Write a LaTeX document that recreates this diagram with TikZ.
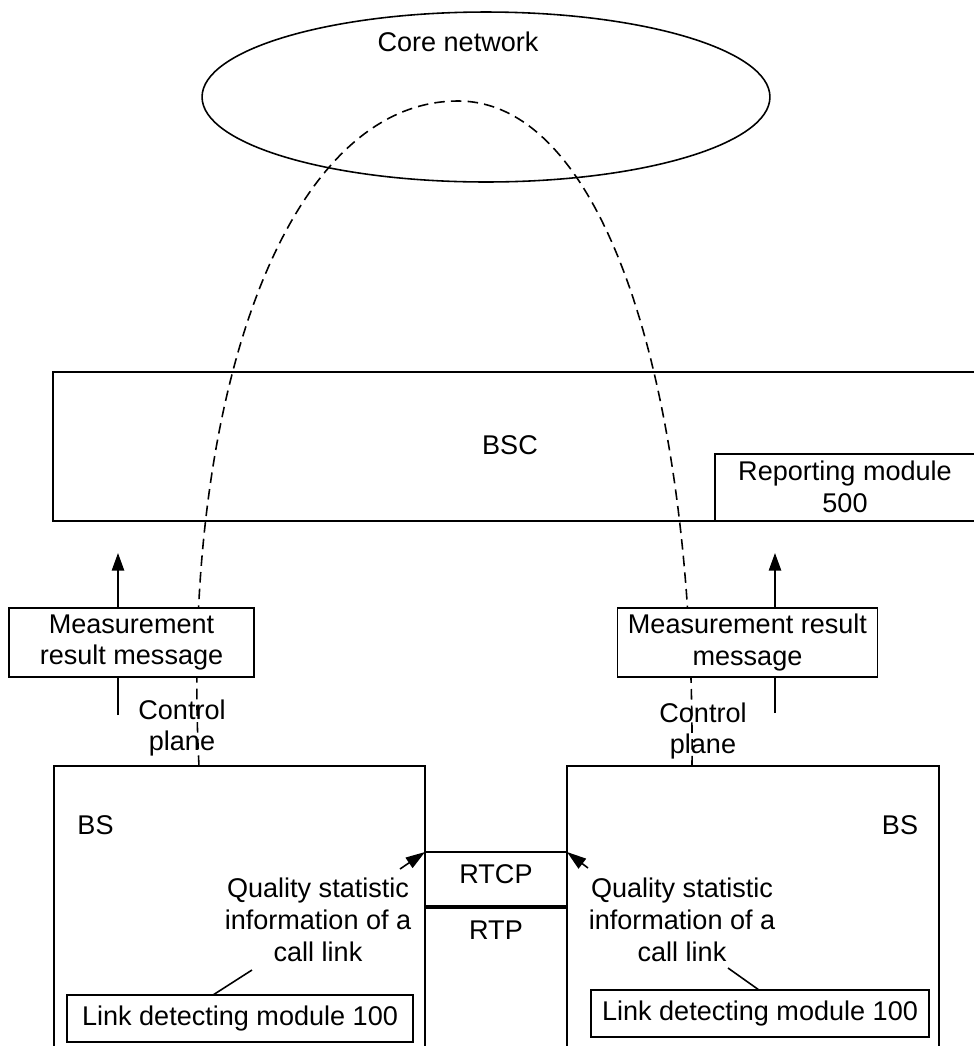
\documentclass[tikz,border=0pt]{standalone}
\usepackage{fontspec}
\setmainfont{Liberation Sans}
\usetikzlibrary{arrows.meta,shapes.geometric}
\begin{document}
\begin{tikzpicture}[x=0.02cm, y=-0.02cm, line width=0.9pt,
  every node/.style={font=\fontsize{15.4}{18.2}\selectfont, align=center, inner sep=0pt},
  msgbox/.style={draw, fill=white, minimum height=1.38cm},
  linkbox/.style={draw, fill=white, minimum height=0.94cm},
  sigpath/.style={dash pattern=on 6pt off 3.5pt},
  uptip/.style={-{Triangle[length=10pt,width=7pt]}},
  cornertip/.style={-{Triangle[length=11pt,width=7pt]}}]
\useasboundingbox (0,0) rectangle (974,1046);
\draw (486,97) node (core) [draw, ellipse, minimum width=11.36cm, minimum height=3.4cm] {};
\draw (458,42) node (corelabel) {Core network};
\draw (974,372) -- (53,372) -- (53,521) -- (974,521);
\draw (510,445) node (bsc) {BSC};
\draw (974,454) -- (715,454) -- (715,521);
\draw[line width=1.5pt] (715,521) -- (974,521);
\draw (845,487) node (report) {Reporting module\\500};
\draw (54,1050) -- (54,766) -- (425,766) -- (425,1050);
\draw (567,1050) -- (567,766) -- (939,766) -- (939,1050);
\draw (95.5,825) node (bsL) {BS};
\draw (900,825) node (bsR) {BS};
\coordinate (cpL) at (199,766);
\coordinate (apex) at (458,101);
\coordinate (cpR) at (692,766);
\draw[sigpath] (cpL) .. controls (180,400) and (285,101) .. (apex)
  .. controls (605,101) and (695,390) .. (cpR);
\coordinate (upL) at (118,715);
\coordinate (upR) at (775,713);
\draw[uptip] (upL) -- (118,553);
\draw[uptip] (upR) -- (775,553);
\draw (131.5,642.5) node (msgL) [msgbox, minimum width=4.9cm] {Measurement\\result message};
\draw (747.5,642.5) node (msgR) [msgbox, minimum width=5.2cm] {Measurement result\\message};
\draw (182,728) node (ctrlL) {Control\\plane};
\draw (703,731) node (ctrlR) {Control\\plane};
\coordinate (rtcpL) at (425,852);
\coordinate (rtcpR) at (567,852);
\draw (rtcpL) -- (rtcpR);
\draw[line width=2.8pt] (425,907) -- (567,907);
\draw (496,874) node (rtcp) {RTCP};
\draw (496,930) node (rtp) {RTP};
\draw (318,920) node (qualL) {Quality statistic\\information of a\\call link};
\draw (682,920) node (qualR) {Quality statistic\\information of a\\call link};
\draw[cornertip] (400,869) -- (rtcpL);
\draw[cornertip] (588,868) -- (rtcpR);
\draw (240,1018.5) node (linkL) [linkbox, minimum width=6.92cm] {Link detecting module 100};
\draw (760,1013.5) node (linkR) [linkbox, minimum width=6.76cm] {Link detecting module 100};
\draw (252,970) -- (213,995);
\draw (728,968) -- (759,990);
\end{tikzpicture}
\end{document}
